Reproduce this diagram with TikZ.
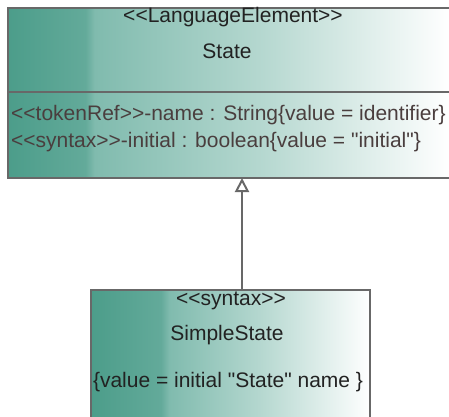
\documentclass[tikz,border=0pt]{standalone}
\usepackage{fontspec}
\newfontfamily\umlfont{Liberation Sans}
\usetikzlibrary{arrows.meta}
\definecolor{tealA}{HTML}{4C9D8A}
\definecolor{tealB}{HTML}{63AA9A}
\definecolor{tealC}{HTML}{80BBAE}
\definecolor{tealD}{HTML}{B4D7CF}
\definecolor{edge}{HTML}{686868}
\definecolor{titlecol}{HTML}{222222}
\definecolor{attrcol}{HTML}{4A3E3E}
\pgfdeclarehorizontalshading{boxshade}{100bp}{color(0bp)=(tealA); color(25bp)=(tealA); color(33.5bp)=(tealB); color(34.5bp)=(tealC); color(52.5bp)=(tealD); color(73.5bp)=(white); color(100bp)=(white)}
\pgfdeclarehorizontalshading{boxshadeb}{100bp}{color(0bp)=(tealA); color(25bp)=(tealA); color(37.5bp)=(tealB); color(39bp)=(tealC); color(55bp)=(tealD); color(75bp)=(white); color(100bp)=(white)}
\tikzset{
  classbox/.style={draw=edge, line width=2.4pt, rectangle, inner sep=0pt, anchor=north west},
  txt/.style={anchor=base, inner sep=0pt, font=\umlfont\fontsize{21}{25}\selectfont},
  ttl/.style={txt, text=titlecol},
  attr/.style={txt, anchor=base west, text=attrcol},
  gen/.style={draw=edge, line width=2.4pt, -{Triangle[open, length=14pt, width=14pt, line width=2pt]}}
}
\begin{document}
\begin{tikzpicture}[x=1pt, y=-1pt]
\useasboundingbox (0,0) rectangle (449,416);
\clip (0,0) rectangle (449,416);
\node[classbox, shading=boxshade, minimum width=455pt, minimum height=170pt] (state) at (7,7) {};
\draw[draw=edge, line width=2.4pt] (7,92) coordinate (dl) -- (462,92) coordinate (dr);
\node[ttl] (stereo) at (233,22) {<<LanguageElement>>};
\node[ttl] (name) at (227,58) {State};
\node[attr] (a1) at (11,120) {<<tokenRef>>-name : String\{value = identifier\}};
\node[attr] (a2) at (11,147) {<<syntax>>-initial : boolean\{value = "initial"\}};
\node[classbox, shading=boxshadeb, minimum width=279pt, minimum height=150pt] (simple) at (90,289) {};
\node[ttl] (sstereo) at (231,305) {<<syntax>>};
\node[ttl] (sname) at (227,340) {SimpleState};
\node[ttl] (sval) at (228,387) {\{value = initial "State" name \}};
\coordinate (top) at (242,178);
\coordinate (bot) at (242,289);
\draw[gen] (bot) -- (top);
\end{tikzpicture}
\end{document}
